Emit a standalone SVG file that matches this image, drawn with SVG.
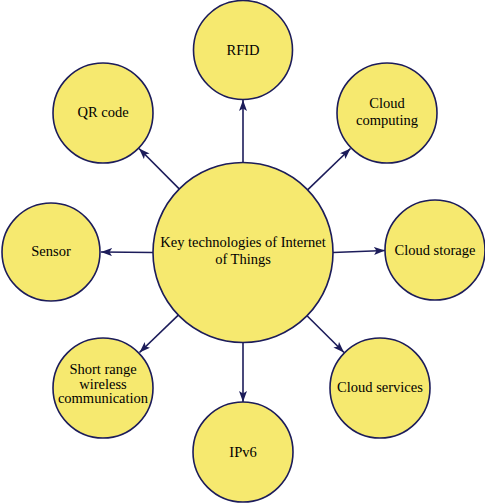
<svg xmlns="http://www.w3.org/2000/svg" width="485" height="503" viewBox="0 0 485 503">
<style>
.n{fill:#f6e96f;stroke:#1c1c5a;stroke-width:1.6}
.c{stroke:#1c1c5a;stroke-width:1.6;fill:none;marker-end:url(#ah)}
</style>
<defs>
<marker id="ah" markerUnits="userSpaceOnUse" markerWidth="12" markerHeight="9" refX="11" refY="4" orient="auto">
<path d="M0,0 L11,4 L0,8 L2.5,4 Z" fill="#1c1c5a"/>
</marker>
</defs>
<rect width="485" height="503" fill="#fff"/>
<g id="connectors">
<line class="c" x1="243" y1="162.5" x2="243" y2="100"/>
<line class="c" x1="179.2" y1="188.9" x2="139" y2="148.5"/>
<line class="c" x1="307.6" y1="189.9" x2="350.5" y2="148.5"/>
<line class="c" x1="153" y1="252.5" x2="101" y2="252"/>
<line class="c" x1="333" y1="252.5" x2="385" y2="250.5"/>
<line class="c" x1="178.3" y1="315.1" x2="139.5" y2="352.5"/>
<line class="c" x1="307" y1="315.8" x2="344" y2="352.5"/>
<line class="c" x1="243" y1="342.5" x2="243" y2="402"/>
</g>
<g id="center"><circle class="n" cx="243" cy="252.5" r="90"/><text font-family="Liberation Serif" font-size="14.5" text-anchor="middle" x="243" y="247">Key technologies of Internet</text><text font-family="Liberation Serif" font-size="14.5" text-anchor="middle" x="243" y="264">of Things</text></g>
<g id="rfid"><circle class="n" cx="243" cy="50" r="49.5"/><text font-family="Liberation Serif" font-size="14.5" text-anchor="middle" x="243" y="55">RFID</text></g>
<g id="qr"><circle class="n" cx="103" cy="113" r="50"/><text font-family="Liberation Serif" font-size="14.5" text-anchor="middle" x="103" y="117">QR code</text></g>
<g id="cloudcomputing"><circle class="n" cx="387" cy="113" r="50"/><text font-family="Liberation Serif" font-size="14.5" text-anchor="middle" x="387" y="108">Cloud</text><text font-family="Liberation Serif" font-size="14.5" text-anchor="middle" x="387" y="124.5">computing</text></g>
<g id="sensor"><circle class="n" cx="51" cy="252" r="49"/><text font-family="Liberation Serif" font-size="14.5" text-anchor="middle" x="51" y="256">Sensor</text></g>
<g id="cloudstorage"><circle class="n" cx="435" cy="250" r="50"/><text font-family="Liberation Serif" font-size="14.5" text-anchor="middle" x="435" y="255">Cloud storage</text></g>
<g id="shortrange"><circle class="n" cx="103" cy="388" r="50"/><text font-family="Liberation Serif" font-size="14.5" text-anchor="middle" x="103" y="374">Short range</text><text font-family="Liberation Serif" font-size="14.5" text-anchor="middle" x="103" y="388.5">wireless</text><text font-family="Liberation Serif" font-size="14.5" text-anchor="middle" x="103" y="403">communication</text></g>
<g id="cloudservices"><circle class="n" cx="380" cy="388" r="50"/><text font-family="Liberation Serif" font-size="14.5" text-anchor="middle" x="380" y="392">Cloud services</text></g>
<g id="ipv6"><circle class="n" cx="243" cy="452" r="50"/><text font-family="Liberation Serif" font-size="14.5" text-anchor="middle" x="243" y="457">IPv6</text></g>
</svg>
